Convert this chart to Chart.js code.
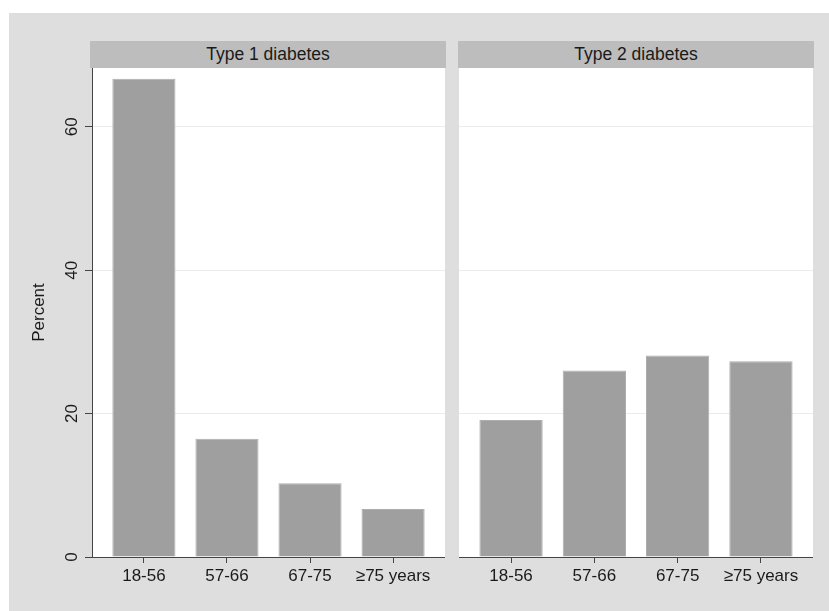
<!DOCTYPE html>
<html>
<head>
<meta charset="utf-8">
<script src="https://cdn.jsdelivr.net/npm/chart.js@4"></script>
<style>
  body { margin: 0; background: #fff; font-family: "Liberation Sans", Arial, sans-serif; }
  #page { position: relative; width: 829px; height: 611px; overflow: hidden; }
  #bg { position: absolute; left: 9px; top: 13px; width: 820px; height: 598px; background: #dedede; }
  .head { position: absolute; top: 41px; height: 27px; width: 356px; background: #bdbdbd;
          color: #1a1a1a; font-size: 17.5px; line-height: 27px; text-align: center; }
  .box { position: absolute; top: 68px; height: 543px; }
</style>
</head>
<body>
<div id="page">
  <div id="bg"></div>
  <div class="head" style="left:90px">Type 1 diabetes</div>
  <div class="head" style="left:458px">Type 2 diabetes</div>
  <div class="box" style="left:9px;width:436px"><canvas id="type1"></canvas></div>
  <div class="box" style="left:459px;width:354px"><canvas id="type2"></canvas></div>
</div>
<script>
const ageGroups = ["18-56", "57-66", "67-75", "\u226575 years"];
const type1Percent = [66.7, 16.5, 10.3, 6.7];
const type2Percent = [19.1, 26.0, 28.1, 27.3];
const yTicks = [0, 20, 40, 60];

const plotBg = {
    id: "plotBg",
    beforeDraw(chart) {
        const a = chart.chartArea;
        chart.ctx.save();
        chart.ctx.fillStyle = "#ffffff";
        chart.ctx.fillRect(a.left, a.top, a.right - a.left, a.bottom - a.top);
        chart.ctx.restore();
    }
};

function makePanel(id, values, showY) {
    const ctx = document.getElementById(id);
    if (!ctx) return;

    new Chart(ctx, {
        type: "bar",
        data: {
            datasets: [{
                data: values.map((v, i) => ({ x: i + 1, y: v })),
                backgroundColor: "#9f9f9f",
                borderColor: "#adadad",
                borderWidth: 1,
                categoryPercentage: 1,
                barPercentage: 0.76
            }]
        },
        options: {
            responsive: true,
            maintainAspectRatio: false,
            animation: false,
            layout: { padding: 0 },
            plugins: {
                legend: { display: false },
                tooltip: { enabled: false }
            },
            scales: {
                x: {
                    type: "linear",
                    min: 0.375,
                    max: 4.625,
                    offset: false,
                    afterBuildTicks: s => { s.ticks = [1, 2, 3, 4].map(v => ({ value: v })); },
                    afterFit: s => { s.height = 54; s.paddingLeft = 0; s.paddingRight = 0; },
                    grid: { offset: false, drawOnChartArea: false, tickColor: "#444", tickLength: 6 },
                    border: { color: "#444", width: 1 },
                    ticks: {
                        padding: 3,
                        color: "#1a1a1a",
                        font: { family: "Liberation Sans", size: 17 },
                        maxRotation: 0,
                        autoSkip: false,
                        callback: v => ageGroups[v - 1]
                    }
                },
                y: {
                    min: 0,
                    max: 68.2,
                    afterBuildTicks: s => { s.ticks = yTicks.map(v => ({ value: v })); },
                    afterFit: s => { s.width = showY ? 83 : 0; s.paddingTop = 0; s.paddingBottom = 0; },
                    grid: { color: c => c.tick.value === 0 ? "rgba(0,0,0,0)" : "#ececec",
                            drawTicks: showY, tickColor: "#444", tickLength: 7 },
                    border: { display: showY, color: "#444", width: 1 },
                    title: {
                        display: showY,
                        text: "Percent",
                        color: "#1a1a1a",
                        font: { family: "Liberation Sans", size: 17 },
                        padding: { top: 20 }
                    },
                    ticks: {
                        display: showY,
                        minRotation: 90,
                        maxRotation: 90,
                        crossAlign: "center",
                        padding: 3,
                        color: "#1a1a1a",
                        font: { family: "Liberation Sans", size: 17 }
                    }
                }
            }
        },
        plugins: [plotBg]
    });
}

document.addEventListener("DOMContentLoaded", () => {
    makePanel("type1", type1Percent, true);
    makePanel("type2", type2Percent, false);
});
</script>
</body>
</html>
